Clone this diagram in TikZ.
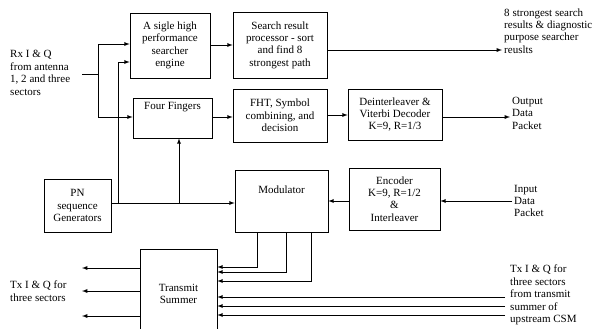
\documentclass[tikz,border=0pt]{standalone}
\usepackage{fontspec}
\setmainfont{Liberation Serif}

\newdimen\px \px=0.03cm

\tikzset{
  blk/.style={draw, line width=0.6pt, align=center, inner sep=1pt},
  txt/.style={align=left, anchor=west, inner sep=0pt},
  wire/.style={line width=0.6pt},
  sig/.style={wire, ->}
}

\begin{document}
\begin{tikzpicture}[x=0.03cm, y=-0.03cm, >=latex,
    font=\fontsize{9.4}{10.6}\selectfont]
    % pixel grid of the scanned figure
    \useasboundingbox (0,0) rectangle (616,328);
    \clip (0,0) rectangle (616,328);

    % blocks
    \node[blk, minimum width=80\px, minimum height=65\px] (search) at (170,45.5)
      {A sigle high\\performance\\searcher\\engine};
    \node[blk, minimum width=94\px, minimum height=66\px] (proc) at (280,45)
      {Search result\\processor - sort\\and find 8\\strongest path};
    \node[blk, minimum width=79\px, minimum height=40\px] (fingers) at (172.5,118) {};
    \node[anchor=north, inner sep=0pt] at ([yshift=-4\px]fingers.north) {Four Fingers};
    \node[blk, minimum width=94\px, minimum height=53\px] (fht) at (280,115.5)
      {FHT, Symbol\\combining, and\\decision};
    \node[blk, minimum width=94\px, minimum height=51\px] (deint) at (395,114.5)
      {Deinterleaver \&\\Viterbi Decoder\\K=9, R=1/3};
    \node[blk, minimum width=67\px, minimum height=53\px] (pn) at (77.5,205.5)
      {PN\\sequence\\Generators};
    \node[blk, minimum width=93\px, minimum height=62\px] (mod) at (281.5,201) {};
    \node[anchor=north, inner sep=0pt] at ([yshift=-16\px]mod.north) {Modulator};
    \node[blk, minimum width=91\px, minimum height=62\px] (enc) at (394.5,199)
      {Encoder\\K=9, R=1/2\\\&\\Interleaver};
    \node[blk, minimum width=77\px, minimum height=90\px] (summer) at (178.5,294)
      {Transmit\\Summer};

    % outside texts
    \node[txt] (rx) at (10,73) {Rx I \& Q\\from antenna\\1, 2 and three\\sectors};
    \node[txt] (best) at (504,31) {8 strongest search\\results \& diagnostic\\purpose searcher\\reuslts};
    \node[txt] (out) at (512,113) {Output\\Data\\Packet};
    \node[txt] (in) at (514,201) {Input\\Data\\Packet};
    \node[txt] (txl) at (10,291) {Tx I \& Q for\\three sectors};
    \node[txt] (txr) at (510,295) {Tx I \& Q for\\three sectors\\from transmit\\summer of\\upstream CSM};

    % receive side
    \coordinate (rxend) at (82,74);
    \coordinate (split) at (98,74);
    \draw[wire] (rxend) -- (split);
    \draw[sig] (split) |- (search.west |- 0,44);
    \draw[sig] (split) |- (fingers.west |- 0,117);
    \coordinate (pnx) at (118,203);
    \coordinate (pnf) at (179,203);
    \draw[sig] (pn.east |- 0,203) -- (mod.west |- 0,203);
    \draw[sig] (pnx) |- (search.west |- 0,62);
    \draw[sig] (pnf) -- (fingers.south -| pnf);
    \draw[sig] (search.east |- 0,45) -- (proc.west |- 0,45);
    \draw[sig] (proc.east |- 0,50) -- (502,50);
    \draw[sig] (fingers.east |- 0,117) -- (fht.west |- 0,117);
    \draw[sig] (fht.east |- 0,115) -- (deint.west |- 0,115);
    \draw[sig] (deint.east |- 0,117) -- (510,117);

    % transmit side
    \coordinate (inend) at (512,201);
    \draw[sig] (inend) -- (enc.east |- inend);
    \draw[sig] (enc.west |- 0,201) -- (mod.east |- 0,201);
    \foreach \x/\y in {257/267, 286/272, 311/281}
      \draw[sig] (mod.south -| \x,0) |- (summer.east |- 0,\y);
    \foreach \y in {297, 306, 315}
      \draw[sig] (505,\y) -- (summer.east |- 0,\y);
    \foreach \y in {268, 291, 316}
      \draw[sig] (summer.west |- 0,\y) -- (82,\y);
\end{tikzpicture}
\end{document}
